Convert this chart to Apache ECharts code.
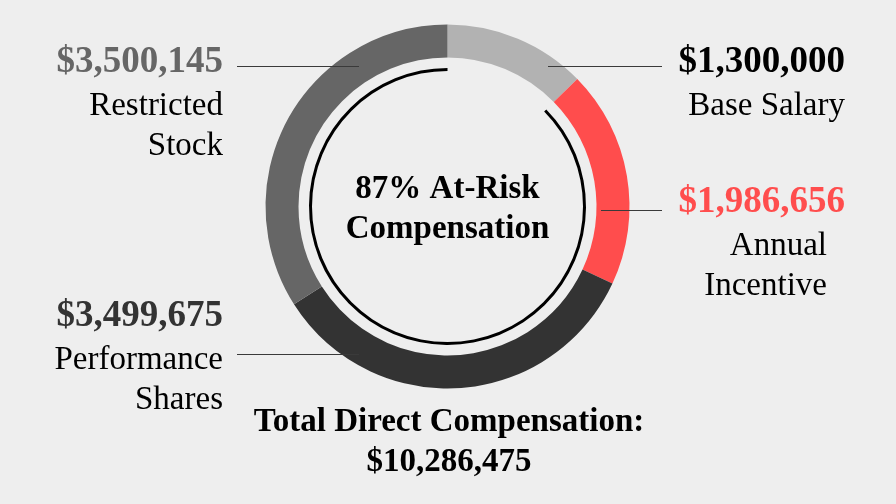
<!DOCTYPE html>
<html>
<head>
<meta charset="utf-8">
<script src="https://cdn.jsdelivr.net/npm/echarts@6/dist/echarts.min.js"></script>
<style>
html,body{margin:0;padding:0;background:#eeeeee;}
#chart{width:896px;height:504px;}
</style>
</head>
<body>
<div id="chart"></div>
<script>
// ---- data ----
const categories = ['Base Salary', 'Annual Incentive', 'Performance Shares', 'Restricted Stock'];
const values = [1300000, 1986656, 3499675, 3500145];
const valueLabels = ['$1,300,000', '$1,986,656', '$3,499,675', '$3,500,145'];
const nameLines = [['Base Salary'], ['Annual', 'Incentive'], ['Performance', 'Shares'], ['Restricted', 'Stock']];
const fixedIndex = 0; // Base Salary is not at risk
const centerLines = ['% At-Risk', 'Compensation'];
const totalLines = ['Total Direct Compensation:', '$10,286,475'];

// ---- styles / layout ----
const FONT = "'Liberation Serif', 'Times New Roman', serif";
const segColors = ['#b2b2b2', '#ff4d4d', '#333333', '#666666'];
const valueColors = ['#000000', '#ff4d4d', '#333333', '#666666'];
const cx = 447.5, cy = 206.5;
const labelPos = [
  { x: 845, y: 38, align: 'right', line: [[548, 66.5], [662, 66.5]], pad: 0 },
  { x: 845, y: 178.5, align: 'right', line: [[601, 210.5], [662, 210.5]], pad: 18 },
  { x: 223, y: 292, align: 'right', line: [[359, 354.5], [237, 354.5]], pad: 0 },
  { x: 223, y: 38, align: 'right', line: [[359, 66.5], [237, 66.5]], pad: 0 }
];

const total = values.reduce((a, b) => a + b, 0);
const atRisk = total - values[fixedIndex];
const pct = Math.round(atRisk / total * 100);

const chart = echarts.init(document.getElementById('chart'), null, { renderer: 'canvas' });

const ringData = categories.map((c, i) => ({
  name: c,
  value: values[i],
  itemStyle: { color: segColors[i] }
}));

const labelData = categories.map((c, i) => ({
  name: c,
  value: values[i],
  itemStyle: { color: 'rgba(0,0,0,0)' },
  label: {
    formatter: ['{v|' + valueLabels[i] + '}'].concat(nameLines[i].map(s => '{n|' + s + '}')).join('\n'),
    rich: {
      v: { fontFamily: FONT, fontSize: 37, fontWeight: 'bold', color: valueColors[i], lineHeight: 48 },
      n: { fontFamily: FONT, fontSize: 33, color: '#000', lineHeight: 40, padding: [0, labelPos[i].pad, 0, 0] }
    }
  }
}));

chart.setOption({
  backgroundColor: '#eeeeee',
  animation: false,
  series: [
    {
      type: 'pie',
      z: 1,
      center: [cx, cy],
      radius: [149, 182],
      startAngle: 90,
      clockwise: true,
      silent: true,
      data: ringData,
      label: { show: false },
      labelLine: { show: false }
    },
    {
      type: 'pie',
      z: 3,
      center: [cx, cy],
      radius: [149, 182],
      startAngle: 90,
      clockwise: true,
      avoidLabelOverlap: false,
      silent: true,
      data: labelData,
      label: { show: true, position: 'outside' },
      labelLine: { show: true, length: 10, length2: 10, smooth: false, lineStyle: { color: '#3a3a3a', width: 1 } },
      labelLayout: function (params) {
        const p = labelPos[params.dataIndex];
        return {
          x: p.x, y: p.y, align: p.align, verticalAlign: 'top',
          labelLinePoints: [p.line[0], p.line[1], p.line[1]]
        };
      }
    },
    {
      type: 'pie',
      z: 2,
      center: [cx, cy],
      radius: [135.5, 138.5],
      startAngle: 90,
      clockwise: true,
      silent: true,
      label: { show: false },
      labelLine: { show: false },
      data: [
        { name: 'Fixed', value: values[fixedIndex], itemStyle: { color: 'rgba(0,0,0,0)' } },
        { name: 'At-Risk', value: atRisk, itemStyle: { color: '#000000' } }
      ]
    }
  ],
  graphic: [
    { type: 'text', x: cx, y: 189, style: { text: pct + centerLines[0], font: 'bold 33px ' + FONT, fill: '#000', textAlign: 'center', textVerticalAlign: 'middle', align: 'center', verticalAlign: 'middle' } },
    { type: 'text', x: cx, y: 229, style: { text: centerLines[1], font: 'bold 33px ' + FONT, fill: '#000', textAlign: 'center', textVerticalAlign: 'middle', align: 'center', verticalAlign: 'middle' } },
    { type: 'text', x: 449, y: 422, style: { text: totalLines[0], font: 'bold 33px ' + FONT, fill: '#000', textAlign: 'center', textVerticalAlign: 'middle', align: 'center', verticalAlign: 'middle' } },
    { type: 'text', x: 449, y: 462, style: { text: totalLines[1], font: 'bold 33px ' + FONT, fill: '#000', textAlign: 'center', textVerticalAlign: 'middle', align: 'center', verticalAlign: 'middle' } }
  ]
});
</script>
</body>
</html>
